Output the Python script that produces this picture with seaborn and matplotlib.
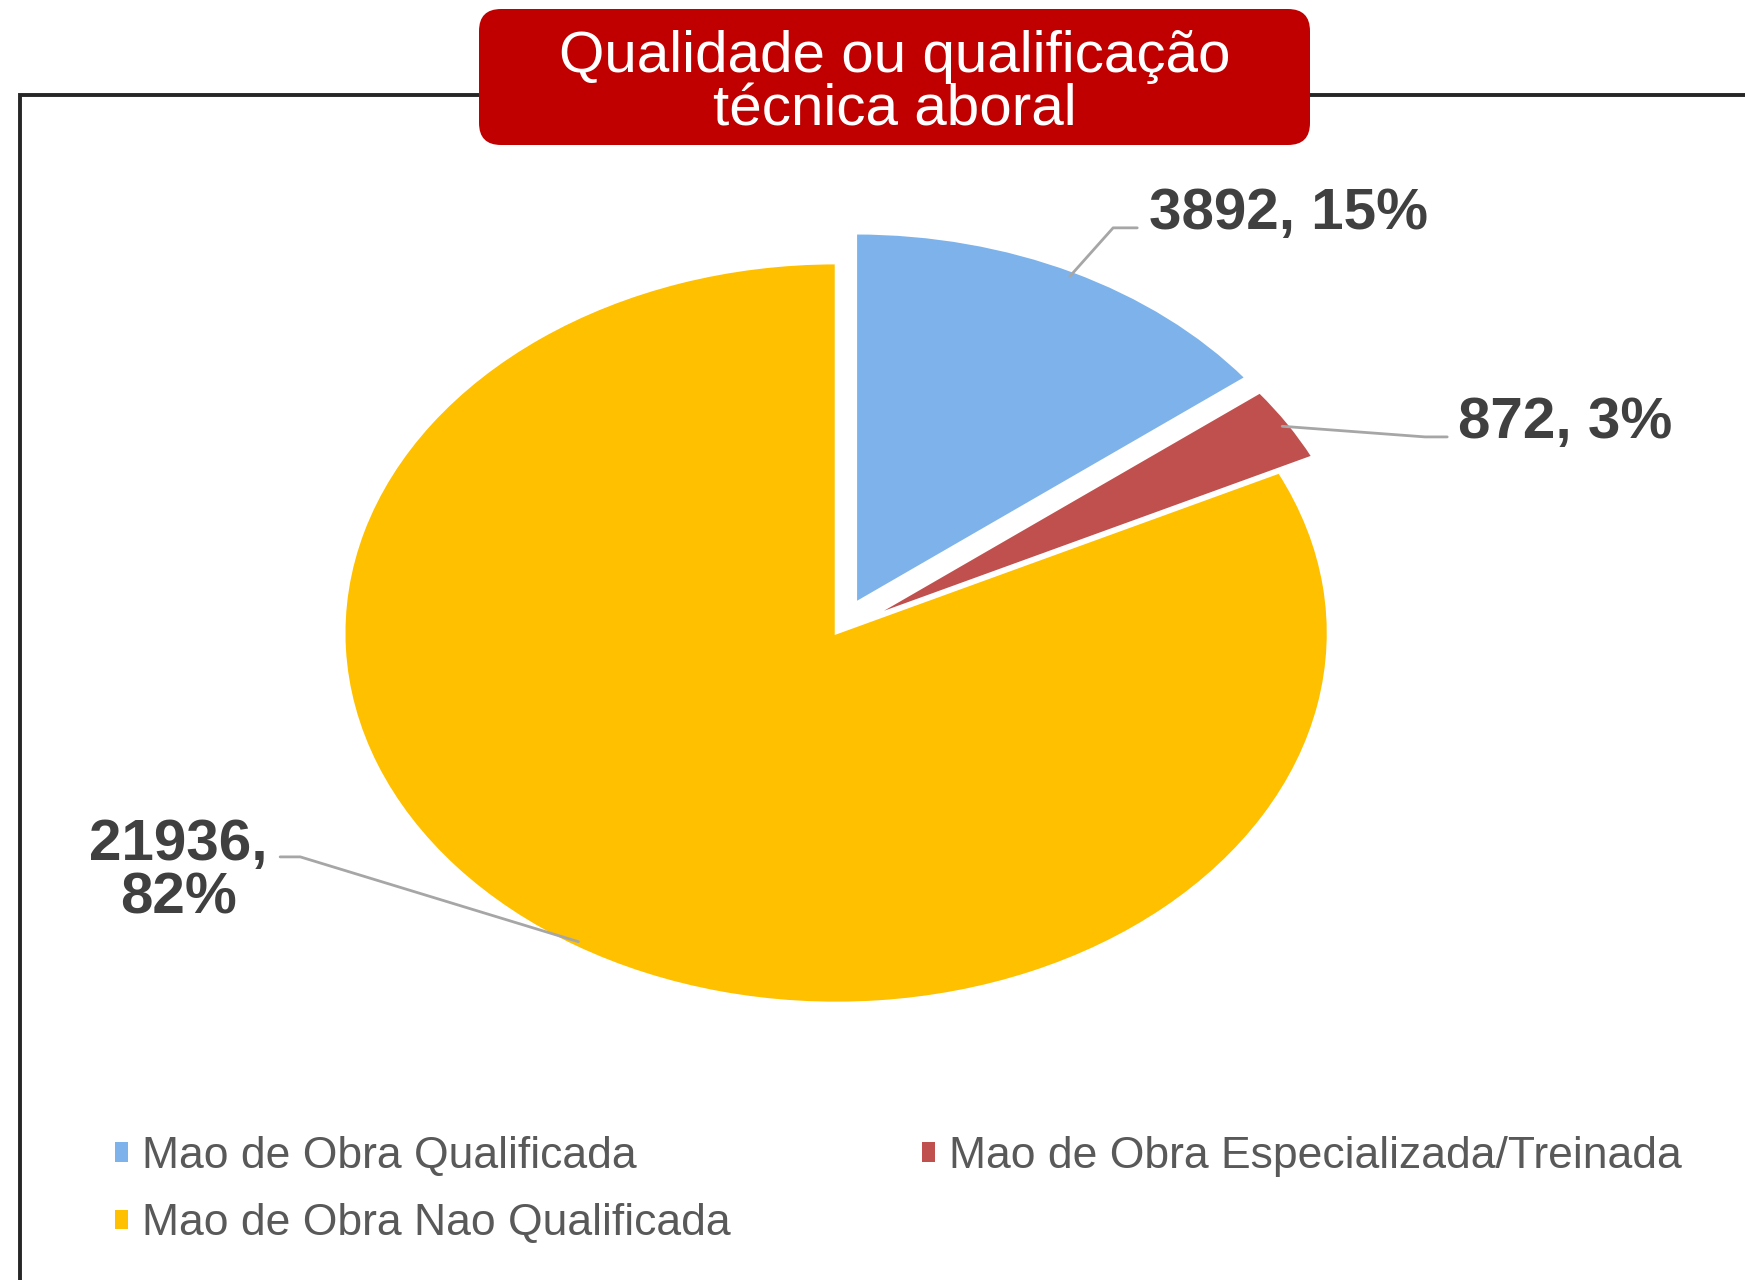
import numpy as np
import matplotlib
matplotlib.use("Agg")
import matplotlib.pyplot as plt
import seaborn as sns
from matplotlib.patches import FancyBboxPatch, Rectangle, Patch

# === Dados ===
categorias = ["Mao de Obra Qualificada",
              "Mao de Obra Especializada/Treinada",
              "Mao de Obra Nao Qualificada"]
valores = [3892, 872, 21936]
percentuais = ["15%", "3%", "82%"]
cores = ["#7DB3EA", "#C0504D", "#FFC000"]
explode = [0.09, 0.08, 0.0]
titulo = "Qualidade ou qualificação\ntécnica aboral"

sns.set_theme(style="white")
plt.rcParams["font.family"] = ["Liberation Sans", "DejaVu Sans"]

fig = plt.figure(figsize=(17.45, 12.8), dpi=100)
fig.patch.set_facecolor("white")

# moldura (so esquerda e topo aparecem)
moldura = Rectangle((0.20, -1.0), 20, 12.85, transform=fig.dpi_scale_trans,
                    facecolor="none", edgecolor="#262626", linewidth=2.8, zorder=1)
fig.add_artist(moldura)

# === Pizza ===
ax = fig.add_axes([0.1267, 0.1441, 0.7049, 0.7227])
wedges, _ = ax.pie(valores, colors=cores, explode=explode, startangle=90,
                   counterclock=False,
                   wedgeprops=dict(edgecolor="white", linewidth=2))
ax.set_aspect("auto")
ax.set_xlim(-1.25, 1.25)
ax.set_ylim(-1.25, 1.25)
ax.axis("off")

# rotulos com linha guia
pos_texto = [(0.636, 1.132, "left"), (1.264, 0.568, "left"), (-1.337, -0.645, "center")]
cotovelos = [[(0.563, 1.095), (0.612, 1.095)],
             [(1.197, 0.530), (1.242, 0.530)],
             [(-1.089, -0.605), (-1.130, -0.605)]]

for i, w in enumerate(wedges):
    ang = np.deg2rad((w.theta1 + w.theta2) / 2)
    cx, cy = w.center
    px = cx + w.r * 0.985 * np.cos(ang)
    py = cy + w.r * 0.985 * np.sin(ang)
    xs = [px] + [c[0] for c in cotovelos[i]]
    ys = [py] + [c[1] for c in cotovelos[i]]
    ax.plot(xs, ys, color="#A6A6A6", linewidth=2, clip_on=False, zorder=3)
    sep = ",\n" if i == 2 else ", "
    tx, ty, ha = pos_texto[i]
    ax.text(tx, ty, f"{valores[i]}{sep}{percentuais[i]}", ha=ha, va="center",
            fontsize=42, fontweight="bold", color="#404040", linespacing=1.0,
            multialignment="center", clip_on=False)

# === Titulo ===
caixa = FancyBboxPatch((4.79, 11.35), 8.31, 1.36,
                       boxstyle="round,pad=0,rounding_size=0.22",
                       transform=fig.dpi_scale_trans,
                       facecolor="#C00000", edgecolor="none", zorder=5)
fig.add_artist(caixa)
fig.text(894.5 / 1745, (1280 - 84) / 1280, titulo, ha="center", va="center",
         fontsize=42, color="white", linespacing=1.0, zorder=6)

# === Legenda ===
ordem = [0, 2, 1]
handles = [Patch(facecolor=cores[i], edgecolor="none") for i in ordem]
fig.legend(handles, [categorias[i] for i in ordem], loc="upper left",
           bbox_to_anchor=(0.0659, 0.1125), ncol=2, frameon=False,
           fontsize=32, handlelength=0.29, handleheight=0.29,
           handletextpad=0.32, columnspacing=4.3, labelspacing=0.59,
           borderpad=0, borderaxespad=0, labelcolor="#595959")

fig.savefig("out.png", dpi=100)
